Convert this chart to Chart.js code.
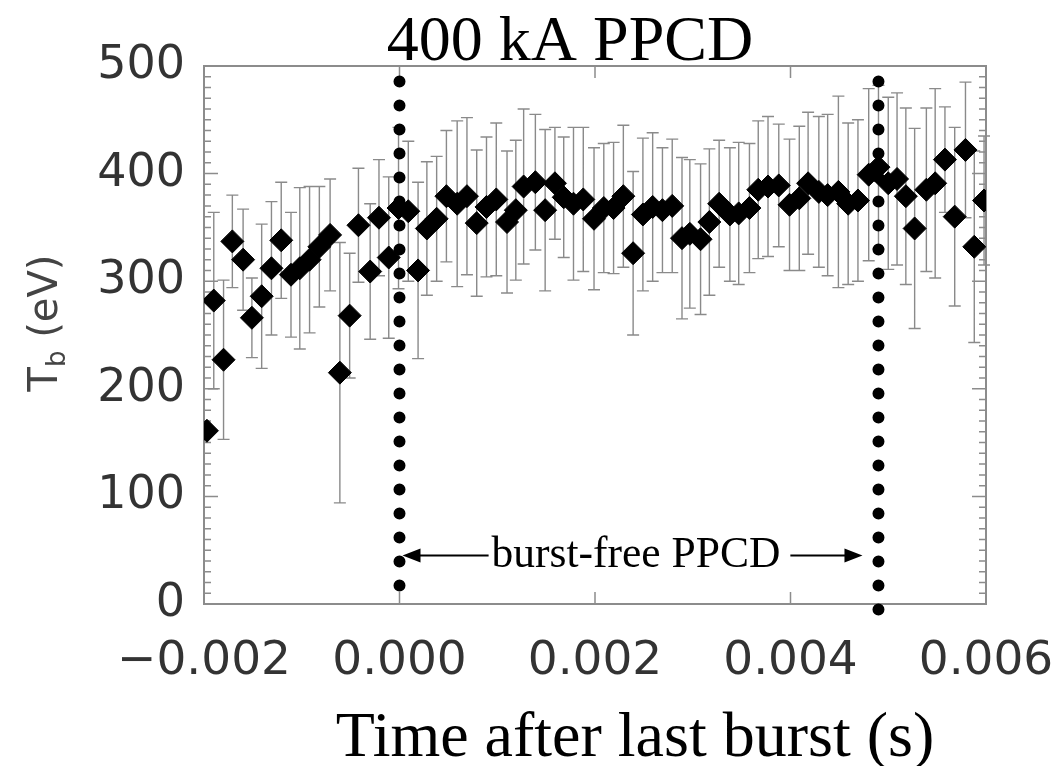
<!DOCTYPE html>
<html>
<head>
<meta charset="utf-8">
<script src="https://cdn.jsdelivr.net/npm/chart.js@4.4.1/dist/chart.umd.min.js"></script>
<style>
  html, body { margin: 0; background: #fff; }
  #wrap { width: 1053px; height: 766px; position: relative; }
</style>
</head>
<body>
<div id="wrap"><canvas id="chart"></canvas></div>
<script>
// time after last burst, in ms (axis labels are shown in seconds)
const timeMs = [
  -1.97, -1.90, -1.80, -1.71, -1.60, -1.51, -1.41, -1.31, -1.21, -1.11,
  -1.02, -0.92, -0.82, -0.71, -0.61, -0.51, -0.42, -0.30, -0.21, -0.11,
  -0.01, 0.09, 0.19, 0.28, 0.38, 0.48, 0.59, 0.69, 0.79, 0.89,
  0.99, 1.10, 1.19, 1.27, 1.39, 1.49, 1.59, 1.68, 1.78, 1.88,
  1.99, 2.09, 2.19, 2.29, 2.39, 2.49, 2.59, 2.69, 2.79, 2.89,
  2.97, 3.08, 3.17, 3.27, 3.38, 3.47, 3.58, 3.67, 3.77, 3.88,
  3.99, 4.09, 4.18, 4.29, 4.38, 4.49, 4.59, 4.69, 4.80, 4.90,
  5.00, 5.09, 5.18, 5.27, 5.39, 5.48, 5.58, 5.68, 5.79, 5.88,
  5.98
];
// T_b in eV
const teValues = [
  161, 282, 227, 337, 320, 266, 286, 312, 338, 306,
  312, 320, 332, 343, 215, 268, 352, 309, 359, 322,
  368, 365, 310, 349, 358, 379, 372, 379, 354, 369,
  376, 355, 366, 388, 392, 366, 391, 378, 372, 376,
  358, 368, 368, 379, 326, 362, 369, 366, 370, 340,
  344, 339, 355, 372, 362, 363, 368, 385, 388, 389,
  371, 377, 391, 383, 380, 383, 372, 375, 399, 406,
  391, 395, 379, 349, 385, 391, 413, 360, 422, 332,
  375
];
// +/- uncertainty in eV
const teErrors = [
  0, 82, 74, 43, 47, 37, 67, 62, 54, 58,
  75, 68, 56, 52, 121, 58, 53, 63, 54, 75,
  75, 65, 82, 62, 58, 61, 77, 73, 68, 65,
  71, 66, 65, 72, 63, 75, 52, 56, 71, 67,
  66, 60, 61, 66, 76, 71, 69, 58, 62, 75,
  69, 70, 68, 59, 62, 66, 60, 64, 65, 57,
  61, 67, 66, 70, 75, 89, 75, 75, 80, 76,
  80, 80, 82, 93, 76, 88, 49, 83, 63, 89,
  60
];
// dotted markers: start / end of burst-free period
const markerTimesMs = [0, 4.9];
const markerTop = [485.5, 485.5];
const markerBottom = [15, -7];
const burstFreeLabel = 'burst-free PPCD';
const labelLevel = 45;

const xTicks = [-2, 0, 2, 4, 6];
const yTicks = [0, 100, 200, 300, 400, 500];

const frameColor = '#8c8c8c';

const frame = {
  id: 'frame',
  beforeDatasetsDraw(chart) {
    const { ctx, chartArea: a, scales: { x, y } } = chart;
    ctx.save();
    ctx.strokeStyle = frameColor;
    ctx.lineWidth = 2;
    ctx.strokeRect(a.left, a.top, a.right - a.left, a.bottom - a.top);
    ctx.lineWidth = 1.5;
    ctx.beginPath();
    for (let v = 0; v <= 500; v += 10) {
      const py = y.getPixelForValue(v);
      const len = v % 100 === 0 ? 14 : 7;
      ctx.moveTo(a.left, py); ctx.lineTo(a.left + len, py);
      ctx.moveTo(a.right, py); ctx.lineTo(a.right - len, py);
    }
    xTicks.forEach((t) => {
      const px = x.getPixelForValue(t);
      ctx.moveTo(px, a.bottom); ctx.lineTo(px, a.bottom - 12);
      ctx.moveTo(px, a.top); ctx.lineTo(px, a.top + 12);
    });
    ctx.stroke();

    // error bars
    ctx.strokeStyle = '#8a8a8a';
    ctx.lineWidth = 1.4;
    ctx.beginPath();
    timeMs.forEach((t, i) => {
      const e = teErrors[i];
      if (!e) return;
      const px = x.getPixelForValue(t);
      const top = y.getPixelForValue(teValues[i] + e);
      const bot = y.getPixelForValue(teValues[i] - e);
      ctx.moveTo(px, top); ctx.lineTo(px, bot);
      ctx.moveTo(px - 6, top); ctx.lineTo(px + 6, top);
      ctx.moveTo(px - 6, bot); ctx.lineTo(px + 6, bot);
    });
    ctx.stroke();
    ctx.restore();
  },
  afterDraw(chart) {
    const { ctx, scales: { x, y } } = chart;
    ctx.save();
    ctx.fillStyle = '#000';
    ctx.strokeStyle = '#000';

    // burst-free annotation
    const x0 = x.getPixelForValue(markerTimesMs[0]);
    const x1 = x.getPixelForValue(markerTimesMs[1]);
    const py = y.getPixelForValue(labelLevel);
    ctx.font = '43.5px "Liberation Serif"';
    ctx.textAlign = 'center';
    ctx.textBaseline = 'middle';
    const cx = (x0 + x1) / 2 - 3;
    ctx.fillText(burstFreeLabel, cx, py);
    const half = ctx.measureText(burstFreeLabel).width / 2;
    ctx.lineWidth = 2;
    ctx.beginPath();
    ctx.moveTo(x0 + 15, py); ctx.lineTo(cx - half - 3, py);
    ctx.moveTo(cx + half + 10, py); ctx.lineTo(x1 - 30, py);
    ctx.stroke();
    ctx.beginPath();
    ctx.moveTo(x0 + 3, py); ctx.lineTo(x0 + 21, py - 7); ctx.lineTo(x0 + 21, py + 7); ctx.closePath();
    ctx.moveTo(x1 - 16, py); ctx.lineTo(x1 - 34, py - 7); ctx.lineTo(x1 - 34, py + 7); ctx.closePath();
    ctx.fill();

    // titles
    ctx.font = '64px "Liberation Serif"';
    ctx.textBaseline = 'alphabetic';
    ctx.fillText('400 kA PPCD', 570, 60);
    ctx.fillText('Time after last burst (s)', 635, 756);

    // y-axis title with subscript
    ctx.fillStyle = '#444';
    ctx.translate(57, 323);
    ctx.rotate(-Math.PI / 2);
    ctx.textAlign = 'left';
    const big = '40px "DejaVu Sans"';
    const small = '26px "DejaVu Sans"';
    ctx.font = big;
    const wT = ctx.measureText('T').width;
    const wRest = ctx.measureText(' (eV)').width;
    ctx.font = small;
    const wb = ctx.measureText('b').width;
    let sx = -(wT + wb + wRest) / 2;
    ctx.font = big;
    ctx.fillText('T', sx, 0);
    sx += wT;
    ctx.font = small;
    ctx.fillText('b', sx, 8);
    sx += wb;
    ctx.font = big;
    ctx.fillText(' (eV)', sx, 0);
    ctx.restore();
  }
};

const points = timeMs.map((t, i) => ({ x: t, y: teValues[i] }));
const markerSets = markerTimesMs.map((t, i) => ({
  type: 'line',
  data: [{ x: t, y: markerTop[i] }, { x: t, y: markerBottom[i] }],
  borderColor: '#000',
  borderWidth: 12,
  borderDash: [0, 24],
  borderCapStyle: 'round',
  pointRadius: 0,
  clip: false,
  order: 0
}));

new Chart(document.getElementById('chart'), {
  type: 'scatter',
  data: {
    datasets: [
      {
        data: points,
        pointStyle: 'rectRot',
        pointRadius: 11.5,
        backgroundColor: '#000',
        borderColor: '#000',
        borderWidth: 1,
        order: 1
      },
      ...markerSets
    ]
  },
  options: {
    responsive: true,
    maintainAspectRatio: false,
    animation: false,
    layout: { padding: { top: 66, left: 0, right: 67, bottom: 0 } },
    plugins: { legend: { display: false }, tooltip: { enabled: false }, title: { display: false } },
    scales: {
      x: {
        type: 'linear',
        min: -2,
        max: 6,
        afterBuildTicks(s) { s.ticks = xTicks.map((v) => ({ value: v })); },
        afterFit(s) { s.height = 162; s.paddingLeft = 0; s.paddingRight = 0; },
        ticks: {
          autoSkip: false,
          maxRotation: 0,
          padding: 30,
          color: '#333',
          font: { family: 'DejaVu Sans', size: 47 },
          callback: (v) => (v / 1000).toFixed(3).replace('-', '\u2212')
        },
        grid: { display: false, drawTicks: false },
        border: { display: false }
      },
      y: {
        min: 0,
        max: 500,
        afterBuildTicks(s) { s.ticks = yTicks.map((v) => ({ value: v })); },
        afterFit(s) { s.width = 204; s.paddingTop = 0; s.paddingBottom = 0; },
        ticks: {
          padding: 19,
          color: '#333',
          font: { family: 'DejaVu Sans', size: 46 }
        },
        grid: { display: false, drawTicks: false },
        border: { display: false }
      }
    }
  },
  plugins: [frame]
});
</script>
</body>
</html>
